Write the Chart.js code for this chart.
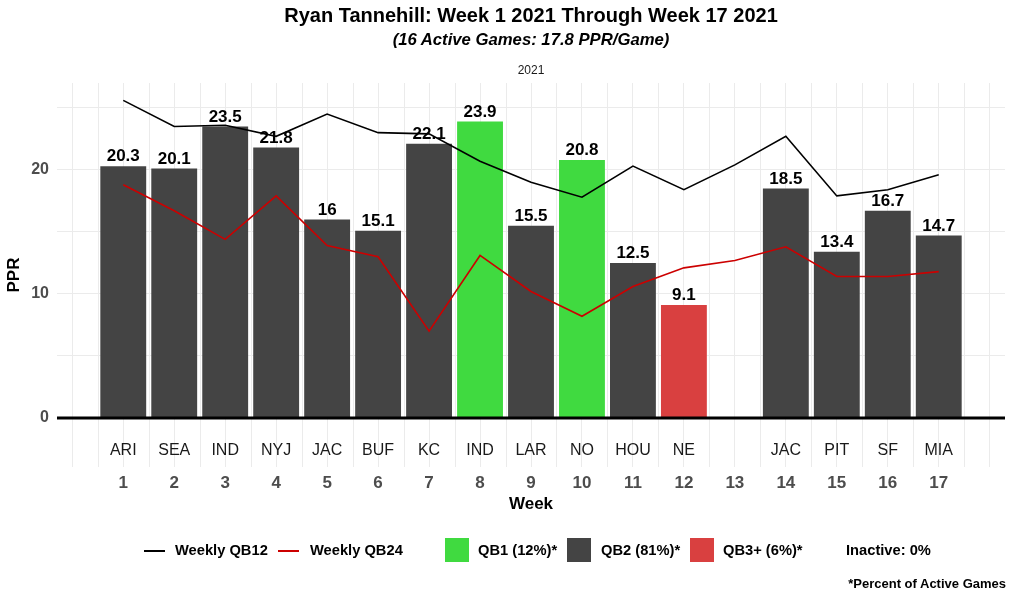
<!DOCTYPE html>
<html>
<head>
<meta charset="utf-8">
<script src="https://cdn.jsdelivr.net/npm/chart.js@4.4.1/dist/chart.umd.min.js"></script>
<style>
  html, body { margin: 0; padding: 0; background: #ffffff; }
  #wrap { position: relative; width: 1014px; height: 600px; font-family: "Liberation Sans", Arial, sans-serif; color: #000; }
  #c { position: absolute; left: 0; top: 0; }
  .t { position: absolute; white-space: nowrap; }
  .title { left: 0; width: 1062px; text-align: center; top: 4px; font-size: 20px; font-weight: bold; }
  .sub { left: 0; width: 1062px; text-align: center; top: 30px; font-size: 16.7px; font-weight: bold; font-style: italic; }
  .strip { left: 0; width: 1062px; text-align: center; top: 63px; font-size: 12px; color: #1a1a1a; }
  .leg { top: 542px; font-size: 14.7px; font-weight: bold; }
  .line { position: absolute; height: 2px; width: 21px; top: 550px; }
  .box { position: absolute; width: 24px; height: 24px; top: 538px; }
  .foot { right: 8px; top: 576px; font-size: 13px; font-weight: bold; }
</style>
</head>
<body>
<div id="wrap">
  <canvas id="c" width="1014" height="600"></canvas>
  <div class="t title">Ryan Tannehill: Week 1 2021 Through Week 17 2021</div>
  <div class="t sub">(16 Active Games: 17.8 PPR/Game)</div>
  <div class="t strip">2021</div>
  <div class="line" style="left:144px;background:#000;"></div>
  <div class="t leg" style="left:175px;">Weekly QB12</div>
  <div class="line" style="left:278px;background:#cc0000;"></div>
  <div class="t leg" style="left:310px;">Weekly QB24</div>
  <div class="box" style="left:445px;background:#40DA40;"></div>
  <div class="t leg" style="left:478px;">QB1 (12%)*</div>
  <div class="box" style="left:567px;background:#444444;"></div>
  <div class="t leg" style="left:601px;">QB2 (81%)*</div>
  <div class="box" style="left:690px;background:#D94040;"></div>
  <div class="t leg" style="left:723px;">QB3+ (6%)*</div>
  <div class="t leg" style="left:846px;">Inactive: 0%</div>
  <div class="t foot">*Percent of Active Games</div>
</div>
<script>
const weeks = [1, 2, 3, 4, 5, 6, 7, 8, 9, 10, 11, 12, 13, 14, 15, 16, 17];
const teams = ['ARI', 'SEA', 'IND', 'NYJ', 'JAC', 'BUF', 'KC', 'IND', 'LAR', 'NO', 'HOU', 'NE', '', 'JAC', 'PIT', 'SF', 'MIA'];
const ppr = [20.3, 20.1, 23.5, 21.8, 16, 15.1, 22.1, 23.9, 15.5, 20.8, 12.5, 9.1, null, 18.5, 13.4, 16.7, 14.7];
const tier = ['QB2', 'QB2', 'QB2', 'QB2', 'QB2', 'QB2', 'QB2', 'QB1', 'QB2', 'QB1', 'QB2', 'QB3+', '', 'QB2', 'QB2', 'QB2', 'QB2'];
const qb12 = [25.6, 23.5, 23.6, 22.7, 24.5, 23.0, 22.9, 20.7, 19.0, 17.8, 20.3, 18.4, 20.4, 22.7, 17.9, 18.4, 19.6];
const qb24 = [18.8, 16.7, 14.4, 17.9, 13.9, 13.0, 7.0, 13.1, 10.2, 8.2, 10.6, 12.1, 12.7, 13.8, 11.4, 11.4, 11.8];
const yTickLabels = [0, 10, 20];

const tierColors = { 'QB1': '#40DA40', 'QB2': '#444444', 'QB3+': '#D94040' };
const FONT = '"Liberation Sans", Arial, sans-serif';

const barData = weeks.map((w, i) => ({ x: w, y: ppr[i] }));
const qb12Data = weeks.map((w, i) => ({ x: w, y: qb12[i] }));
const qb24Data = weeks.map((w, i) => ({ x: w, y: qb24[i] }));

const minorGrid = {
  id: 'minorGrid',
  beforeDatasetsDraw(chart) {
    const { ctx, scales: { x }, chartArea } = chart;
    ctx.save();
    ctx.strokeStyle = '#ebebeb';
    ctx.lineWidth = 1;
    for (let v = 0.5; v < 18; v += 1) {
      const px = Math.round(x.getPixelForValue(v)) + 0.5;
      ctx.beginPath();
      ctx.moveTo(px, chartArea.top);
      ctx.lineTo(px, chartArea.bottom);
      ctx.stroke();
    }
    ctx.restore();
  }
};

const overlay = {
  id: 'overlay',
  afterDatasetsDraw(chart) {
    const { ctx, scales: { x, y }, chartArea } = chart;
    ctx.save();
    const y0 = y.getPixelForValue(0);
    ctx.strokeStyle = '#000';
    ctx.lineWidth = 3;
    ctx.beginPath();
    ctx.moveTo(chartArea.left, y0);
    ctx.lineTo(chartArea.right, y0);
    ctx.stroke();
    ctx.font = 'bold 17px ' + FONT;
    ctx.fillStyle = '#000';
    ctx.textAlign = 'center';
    ctx.textBaseline = 'bottom';
    weeks.forEach((w, i) => {
      if (ppr[i] == null) return;
      ctx.fillText(String(ppr[i]), x.getPixelForValue(w), y.getPixelForValue(ppr[i]) - 1);
    });
    ctx.font = '16px ' + FONT;
    ctx.fillStyle = '#1a1a1a';
    ctx.textBaseline = 'middle';
    weeks.forEach((w, i) => {
      if (!teams[i]) return;
      ctx.fillText(teams[i], x.getPixelForValue(w), y.getPixelForValue(-2.6));
    });
    ctx.restore();
  }
};

new Chart(document.getElementById('c'), {
  type: 'bar',
  data: {
    datasets: [
      { type: 'line', label: 'Weekly QB12', data: qb12Data, borderColor: '#000000', borderWidth: 1.6, pointRadius: 0, tension: 0, order: 0 },
      { type: 'line', label: 'Weekly QB24', data: qb24Data, borderColor: '#cc0000', borderWidth: 1.6, pointRadius: 0, tension: 0, order: 0 },
      { type: 'bar', label: 'PPR', data: barData, backgroundColor: weeks.map((w, i) => tierColors[tier[i]] || '#444444'),
        categoryPercentage: 1.0, barPercentage: 0.9, order: 1 }
    ]
  },
  options: {
    responsive: false,
    animation: false,
    events: [],
    layout: { padding: { top: 83, right: 9, left: 0, bottom: 0 } },
    plugins: { legend: { display: false }, tooltip: { enabled: false }, title: { display: false } },
    scales: {
      x: {
        type: 'linear', min: -0.3, max: 18.3, offset: false,
        border: { display: false },
        grid: { color: '#ebebeb', lineWidth: 1, drawTicks: false, offset: false },
        ticks: {
          stepSize: 1, includeBounds: false, autoSkip: false, maxRotation: 0,
          padding: 6, color: '#4d4d4d', font: { family: FONT, size: 17, weight: 'bold' },
          callback: v => (Number.isInteger(v) && v >= 1 && v <= 17) ? String(v) : ''
        },
        title: { display: true, text: 'Week', color: '#000', font: { family: FONT, size: 17, weight: 'bold' }, padding: { top: 0, bottom: 85 } },
        afterFit: s => { s.height = 133; }
      },
      y: {
        type: 'linear', min: -3.95, max: 27.0,
        border: { display: false },
        grid: { color: '#ebebeb', lineWidth: 1, drawTicks: false },
        ticks: {
          stepSize: 5, includeBounds: false, padding: 8, color: '#4d4d4d', font: { family: FONT, size: 16, weight: 'bold' },
          callback: v => yTickLabels.includes(v) ? String(v) : ''
        },
        title: { display: true, text: 'PPR', color: '#000', font: { family: FONT, size: 17, weight: 'bold' }, padding: { top: 4, bottom: 0 } },
        afterFit: s => { s.width = 57; }
      }
    }
  },
  plugins: [minorGrid, overlay]
});
</script>
</body>
</html>
